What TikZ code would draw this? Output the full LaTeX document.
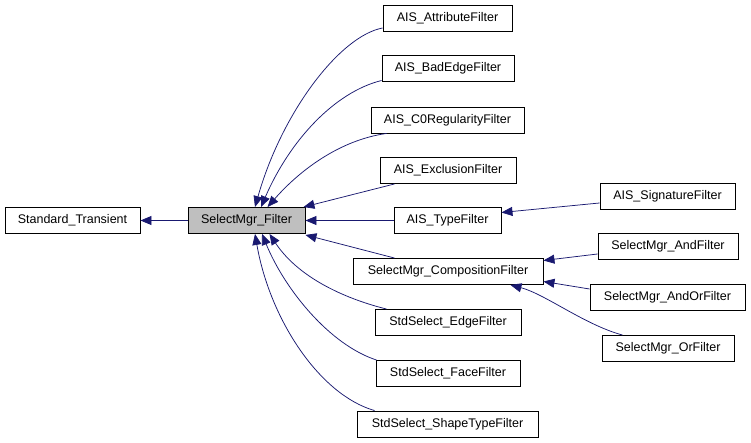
\documentclass[tikz,border=0pt]{standalone}
\usepackage{fontspec}
\setmainfont{Liberation Sans}
\usetikzlibrary{arrows.meta}
\definecolor{edgeblue}{HTML}{191970}
\definecolor{boxgray}{HTML}{BFBFBF}
\tikzset{
  cls/.style={draw=black, line width=0.9pt, fill=white, minimum height=26pt, inner sep=0pt, font=\fontsize{12.5}{14}\selectfont},
  cur/.style={cls, fill=boxgray},
  edge/.style={draw=edgeblue, line width=0.75pt, {Triangle[length=11pt,width=9pt,fill=edgeblue]}-}
}
\begin{document}
\begin{tikzpicture}[x=1pt,y=-1pt]
\useasboundingbox (0,0) rectangle (751,443);
\node[cls, minimum width=135pt] (st) at (72.5,220.5) {Standard\_Transient};
\node[cur, minimum width=117pt] (sf) at (246.5,220.5) {SelectMgr\_Filter};
\node[cls, minimum width=129pt] (attr) at (447.5,18) {AIS\_AttributeFilter};
\node[cls, minimum width=132pt] (bad) at (448,68.5) {AIS\_BadEdgeFilter};
\node[cls, minimum width=153pt] (czero) at (447.5,120) {AIS\_C0RegularityFilter};
\node[cls, minimum width=136pt] (excl) at (448,170.5) {AIS\_ExclusionFilter};
\node[cls, minimum width=107pt] (type) at (447.5,220.5) {AIS\_TypeFilter};
\node[cls, minimum width=190pt] (comp) at (448,271.5) {SelectMgr\_CompositionFilter};
\node[cls, minimum width=146pt] (edgef) at (448,322.5) {StdSelect\_EdgeFilter};
\node[cls, minimum width=144pt] (face) at (448,373.5) {StdSelect\_FaceFilter};
\node[cls, minimum width=181pt] (shape) at (447.5,424) {StdSelect\_ShapeTypeFilter};
\node[cls, minimum width=135pt] (sig) at (667.5,196) {AIS\_SignatureFilter};
\node[cls, minimum width=140pt] (andf) at (668,246.5) {SelectMgr\_AndFilter};
\node[cls, minimum width=155pt] (andor) at (667.5,297.5) {SelectMgr\_AndOrFilter};
\node[cls, minimum width=132pt] (orf) at (668,348.5) {SelectMgr\_OrFilter};

\draw[edge] (st.east) -- (sf.west);
\draw[edge] ([xshift=8.5pt]sf.north) .. controls (282,112) and (340,36) .. ([yshift=-10pt]attr.west);
\draw[edge] ([xshift=14.5pt]sf.north) .. controls (290,140) and (335,92) .. ([yshift=-12pt]bad.west);
\draw[edge] ([xshift=21pt]sf.north) .. controls (300,170) and (340,140) .. ([xshift=16pt]czero.south west);
\draw[edge] ([xshift=-2pt]sf.north east) -- ([xshift=15pt]excl.south west);
\draw[edge] (sf.east) -- (type.west);
\draw[edge] ([yshift=-1pt]sf.south east) -- ([xshift=42pt]comp.north west);
\draw[edge] ([xshift=23pt]sf.south) .. controls (300,280) and (350,300) .. ([xshift=12pt]edgef.north west);
\draw[edge] ([xshift=15.5pt]sf.south) .. controls (285,290) and (330,345) .. ([xshift=1pt]face.north west);
\draw[edge] ([xshift=8.5pt]sf.south) .. controls (270,320) and (320,395) .. ([xshift=18pt]shape.north west);
\draw[edge] ([yshift=8pt]type.east) -- ([yshift=-7pt]sig.west);
\draw[edge] ([yshift=11pt]comp.east) -- ([yshift=-7.5pt]andf.west);
\draw[edge] ([yshift=-10pt]comp.east) -- ([yshift=8.5pt]andor.west);
\draw[edge] ([xshift=-33pt]comp.south east) .. controls (545,294) and (585,325) .. ([xshift=21pt]orf.north west);
\end{tikzpicture}
\end{document}
